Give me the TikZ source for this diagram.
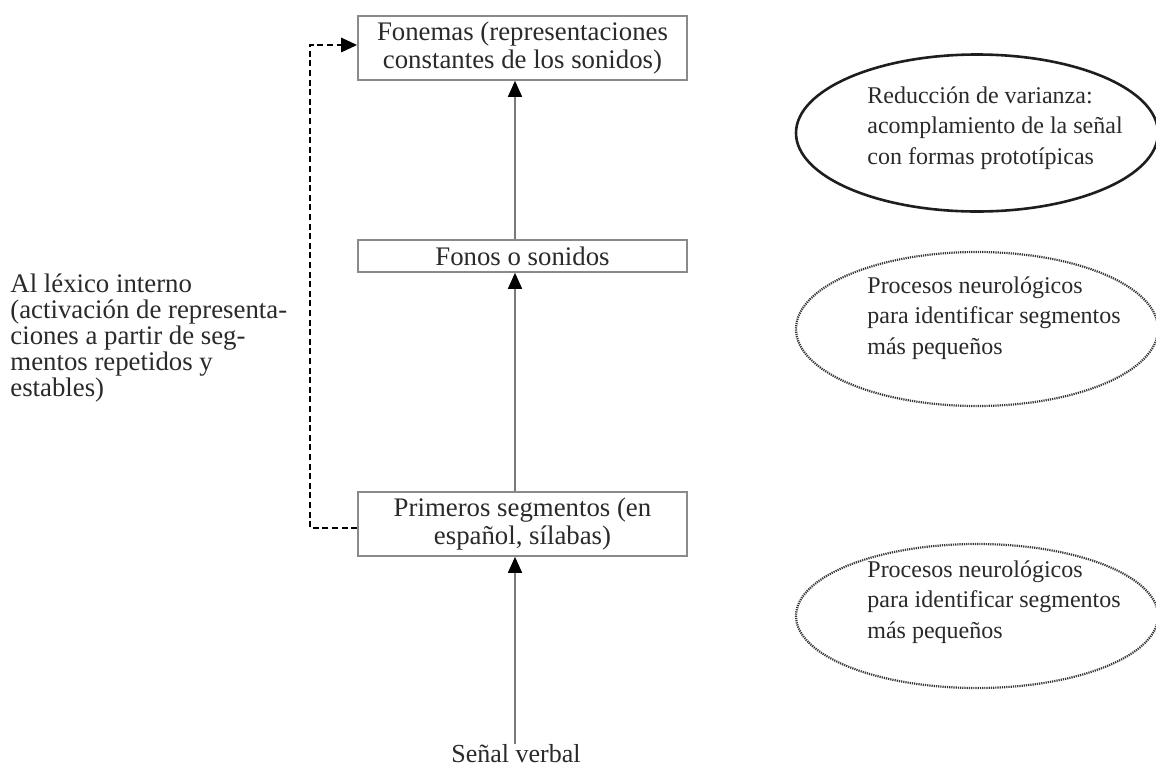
\documentclass[tikz,border=0pt]{standalone}
\usepackage{fontspec}
\setmainfont{Liberation Serif}
\usetikzlibrary{shapes.geometric,arrows.meta}
\definecolor{txt}{HTML}{2A2A2A}
\definecolor{boxline}{HTML}{8A8A8A}
\definecolor{arrline}{HTML}{7A7A7A}
\definecolor{ellline}{HTML}{1E1E1E}
\begin{document}
\begin{tikzpicture}[x=0.5pt,y=-0.5pt,
  stagebox/.style={draw=boxline,line width=0.8pt,minimum width=164.5pt,text=txt,
    font=\fontsize{13.4}{14}\selectfont,align=center,inner sep=0pt},
  uparrow/.style={draw=arrline,line width=0.8pt,-{Triangle[length=8pt,width=7pt,fill=black,color=black]}},
  dasharrow/.style={draw=black,line width=1.4pt,dash pattern=on 3pt off 1.8pt,-{Triangle[length=8pt,width=7pt,fill=black]}},
  ovalsolid/.style={shape=ellipse,draw=ellline,line width=1.3pt,inner sep=0pt},
  ovaldot/.style={shape=ellipse,draw=ellline!90,line width=1.1pt,dash pattern=on 0.6pt off 0.5pt,inner sep=0pt},
  elltext/.style={anchor=west,align=left,text=txt,font=\fontsize{12}{15.3}\selectfont,inner sep=0pt},
  sidetext/.style={anchor=north west,align=left,text=txt,font=\fontsize{13.4}{13}\selectfont,inner sep=0pt}]
\useasboundingbox (0,0) rectangle (1156,772);
\fill[white] (0,0) rectangle (1156,772);

% boxes
\node[stagebox,minimum height=32pt] (fonemas) at (522.5,48) {Fonemas (representaciones\\constantes de los sonidos)};
\node[stagebox,minimum height=16pt] (fonos) at (522.5,256) {Fonos o sonidos};
\node[stagebox,minimum height=32pt] (primeros) at (522.5,524) {Primeros segmentos (en\\espa\~nol, s\'ilabas)};
\node[text=txt,font=\fontsize{13}{14}\selectfont,inner sep=0pt] (senal) at (516,754) {Se\~nal verbal};

% vertical axis
\coordinate (ax) at (515,0);
\draw[uparrow] (senal.north -| ax) -- (primeros.south -| ax);
\draw[uparrow] (primeros.north -| ax) -- (fonos.south -| ax);
\draw[uparrow] (fonos.north -| ax) -- (fonemas.south -| ax);

% dashed feedback
\coordinate (dx) at (310,0);
\coordinate (dtop) at (0,45);
\coordinate (dbot) at (0,528);
\draw[dasharrow] (primeros.west |- dbot) -- (dx |- dbot) -- (dx |- dtop) -- (fonemas.west |- dtop);

% left text
\node[sidetext] (lexico) at (10,273) {Al l\'exico interno\\(activaci\'on de representa-\\ciones a partir de seg-\\mentos repetidos y\\estables)};

% ellipses
\node[ovalsolid,minimum width=181pt,minimum height=78.5pt] (e1) at (977,133) {};
\node[elltext] (t1) at (867,128) {Reducci\'on de varianza:\\acomplamiento de la se\~nal\\con formas protot\'ipicas};
\node[ovaldot,minimum width=181pt,minimum height=77pt] (e2) at (977,329) {};
\node[elltext] (t2) at (867,318) {Procesos neurol\'ogicos\\para identificar segmentos\\m\'as peque\~nos};
\node[ovaldot,minimum width=181pt,minimum height=72pt] (e3) at (977,616) {};
\node[elltext] (t3) at (867,602) {Procesos neurol\'ogicos\\para identificar segmentos\\m\'as peque\~nos};
\end{tikzpicture}
\end{document}
